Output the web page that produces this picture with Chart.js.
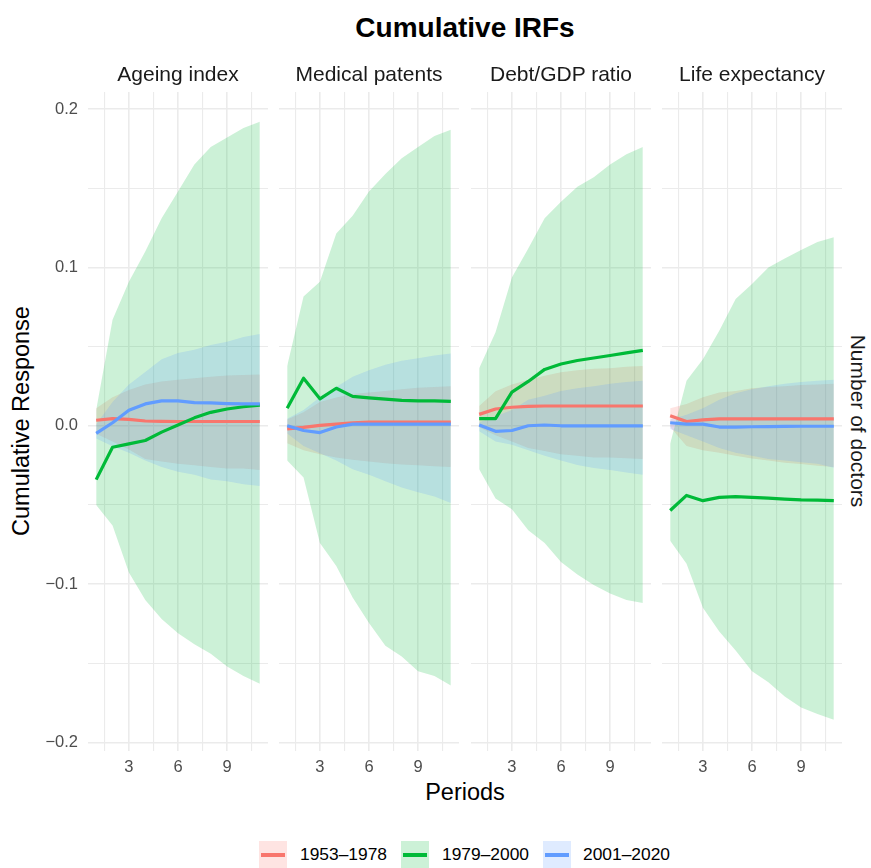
<!DOCTYPE html>
<html>
<head>
<meta charset="utf-8">
<script src="https://cdn.jsdelivr.net/npm/chart.js@4.4.1/dist/chart.umd.min.js"></script>
<style>
  body { margin: 0; background: #fff; font-family: 'Liberation Sans', Arial, sans-serif; }
  #wrap { position: relative; width: 871px; height: 868px; overflow: hidden; }
  canvas { position: absolute; }
  .txt { position: absolute; white-space: nowrap; transform: translate(-50%, -50%); line-height: 1; }
  .key { position: absolute; width: 28px; height: 27px; top: 841px; }
  .key span { position: absolute; left: 2px; right: 2px; top: 12px; height: 3.5px; }
  .ltxt { position: absolute; top: 855px; transform: translateY(-50%); font-size: 17.4px; color: #000; line-height: 1; }
</style>
</head>
<body>
<div id="wrap">
  <div class="txt" style="left:465px;top:28px;font-size:28px;font-weight:bold;">Cumulative IRFs</div>
  <div class="txt" style="left:465px;top:793px;font-size:23.5px;">Periods</div>
  <div class="txt" style="left:22px;top:421px;font-size:23.5px;transform:translate(-50%,-50%) rotate(-90deg);">Cumulative Response</div>
  <div class="txt" style="left:858px;top:421px;font-size:21px;color:#1a1a1a;transform:translate(-50%,-50%) rotate(90deg);">Number of doctors</div>
  <canvas id="c0" width="268" height="724" style="left:0px;top:67px;"></canvas>
  <canvas id="c1" width="180" height="724" style="left:279px;top:67px;"></canvas>
  <canvas id="c2" width="180" height="724" style="left:471px;top:67px;"></canvas>
  <canvas id="c3" width="180" height="724" style="left:662px;top:67px;"></canvas>
  <div id="legend"></div>
</div>
<script>
// periods and facet names
const periods = [1, 2, 3, 4, 5, 6, 7, 8, 9, 10, 11];
const panels = ['Ageing index', 'Medical patents', 'Debt/GDP ratio', 'Life expectancy'];
const seriesNames = ['1953–1978', '1979–2000', '2001–2020'];
const xGrid = [1.5, 3, 4.5, 6, 7.5, 9, 10.5];
const yGrid = [-0.2, -0.15, -0.1, -0.05, 0, 0.05, 0.1, 0.15, 0.2];

// Ageing index
const ageing1953 = [0.0035, 0.0045, 0.004, 0.003, 0.0028, 0.0027, 0.0027, 0.0027, 0.0027, 0.0027, 0.0027];
const ageing1953Lo = [-0.005, -0.010, -0.015, -0.021, -0.0226, -0.024, -0.025, -0.026, -0.027, -0.027, -0.028];
const ageing1953Hi = [0.011, 0.018, 0.0226, 0.026, 0.028, 0.029, 0.030, 0.031, 0.0317, 0.032, 0.0324];
const ageing1979 = [-0.034, -0.0136, -0.0114, -0.0093, -0.004, 0.0005, 0.005, 0.0085, 0.0106, 0.012, 0.013];
const ageing1979Lo = [-0.050, -0.063, -0.0926, -0.110, -0.122, -0.131, -0.138, -0.144, -0.152, -0.158, -0.163];
const ageing1979Hi = [0.010, 0.067, 0.091, 0.110, 0.131, 0.148, 0.165, 0.176, 0.182, 0.188, 0.192];
const ageing2001 = [-0.0048, 0.0019, 0.0098, 0.0138, 0.0157, 0.0157, 0.0146, 0.0144, 0.014, 0.0138, 0.0138];
const ageing2001Lo = [-0.008, -0.013, -0.017, -0.022, -0.026, -0.029, -0.031, -0.034, -0.035, -0.037, -0.038];
const ageing2001Hi = [0.001, 0.015, 0.026, 0.034, 0.042, 0.046, 0.048, 0.051, 0.053, 0.056, 0.058];

// Medical patents
const patents1953 = [-0.002, -0.001, 0.0003, 0.001, 0.0019, 0.0024, 0.0024, 0.0024, 0.0024, 0.0024, 0.0024];
const patents1953Lo = [-0.011, -0.0154, -0.018, -0.020, -0.0215, -0.0226, -0.0237, -0.0245, -0.025, -0.0255, -0.026];
const patents1953Hi = [0.004, 0.0085, 0.015, 0.0178, 0.020, 0.021, 0.022, 0.023, 0.024, 0.0245, 0.025];
const patents1979 = [0.011, 0.030, 0.017, 0.0237, 0.0186, 0.0176, 0.0168, 0.016, 0.0157, 0.0157, 0.0154];
const patents1979Lo = [-0.022, -0.0327, -0.074, -0.0886, -0.1085, -0.1245, -0.139, -0.1457, -0.155, -0.158, -0.164];
const patents1979Hi = [0.0378, 0.0816, 0.091, 0.1215, 0.1327, 0.148, 0.159, 0.169, 0.176, 0.183, 0.187];
const patents2001 = [0, -0.003, -0.0043, -0.0008, 0.001, 0.001, 0.001, 0.001, 0.001, 0.001, 0.001];
const patents2001Lo = [-0.0048, -0.0128, -0.0173, -0.022, -0.0274, -0.031, -0.035, -0.039, -0.042, -0.0447, -0.0487];
const patents2001Hi = [0.0045, 0.010, 0.018, 0.0245, 0.031, 0.035, 0.0386, 0.041, 0.0426, 0.0444, 0.0457];

// Debt/GDP ratio
const debt1953 = [0.0072, 0.0106, 0.0117, 0.0122, 0.0125, 0.0125, 0.0125, 0.0125, 0.0125, 0.0125, 0.0125];
const debt1953Lo = [-0.001, -0.006, -0.010, -0.014, -0.016, -0.018, -0.019, -0.020, -0.020, -0.0205, -0.021];
const debt1953Hi = [0.0125, 0.0218, 0.026, 0.029, 0.0316, 0.0338, 0.035, 0.036, 0.0364, 0.0372, 0.0378];
const debt1979 = [0.0045, 0.0045, 0.0213, 0.028, 0.0356, 0.039, 0.0412, 0.0428, 0.0444, 0.046, 0.0476];
const debt1979Lo = [-0.0274, -0.046, -0.0527, -0.066, -0.074, -0.086, -0.094, -0.1005, -0.106, -0.110, -0.112];
const debt1979Hi = [0.0364, 0.059, 0.0936, 0.112, 0.131, 0.1415, 0.151, 0.157, 0.165, 0.1715, 0.176];
const debt2001 = [0.0005, -0.0035, -0.003, 0, 0.0005, 0, 0, 0, 0, 0, 0];
const debt2001Lo = [-0.0035, -0.010, -0.012, -0.0154, -0.019, -0.022, -0.0247, -0.0266, -0.028, -0.0295, -0.031];
const debt2001Hi = [0.002, 0.006, 0.010, 0.0165, 0.019, 0.022, 0.0237, 0.025, 0.0266, 0.0277, 0.0285];

// Life expectancy
const life1953 = [0.0064, 0.0027, 0.0037, 0.0043, 0.0043, 0.0043, 0.0043, 0.0043, 0.0043, 0.0043, 0.0043];
const life1953Lo = [-0.0008, -0.0128, -0.0154, -0.017, -0.019, -0.0207, -0.022, -0.0234, -0.0242, -0.0253, -0.026];
const life1953Hi = [0.011, 0.0138, 0.018, 0.021, 0.022, 0.0237, 0.0245, 0.025, 0.0258, 0.026, 0.0266];
const life1979 = [-0.0535, -0.044, -0.0473, -0.0452, -0.0447, -0.0452, -0.0457, -0.0463, -0.0468, -0.047, -0.0473];
const life1979Lo = [-0.0726, -0.0872, -0.115, -0.130, -0.142, -0.155, -0.162, -0.171, -0.178, -0.182, -0.1856];
const life1979Hi = [-0.0114, 0.0285, 0.042, 0.060, 0.080, 0.0896, 0.100, 0.1056, 0.111, 0.116, 0.119];
const life2001 = [0.0019, 0.001, 0.001, -0.0008, -0.0008, -0.0006, -0.0005, -0.0004, -0.0003, -0.0003, -0.0003];
const life2001Lo = [-0.002, -0.006, -0.010, -0.014, -0.017, -0.019, -0.021, -0.022, -0.023, -0.024, -0.0265];
const life2001Hi = [0.004, 0.007, 0.011, 0.0165, 0.0205, 0.023, 0.025, 0.0266, 0.0277, 0.0285, 0.029];

// colours (ggplot default hues)
const lineColors = ['#F8766D', '#00BA38', '#619CFF'];
const fillColors = ['rgba(248,118,109,0.2)', 'rgba(0,186,56,0.2)', 'rgba(97,156,255,0.2)'];

const panelData = [
  [[ageing1953, ageing1953Lo, ageing1953Hi], [ageing1979, ageing1979Lo, ageing1979Hi], [ageing2001, ageing2001Lo, ageing2001Hi]],
  [[patents1953, patents1953Lo, patents1953Hi], [patents1979, patents1979Lo, patents1979Hi], [patents2001, patents2001Lo, patents2001Hi]],
  [[debt1953, debt1953Lo, debt1953Hi], [debt1979, debt1979Lo, debt1979Hi], [debt2001, debt2001Lo, debt2001Hi]],
  [[life1953, life1953Lo, life1953Hi], [life1979, life1979Lo, life1979Hi], [life2001, life2001Lo, life2001Hi]]
];

const toXY = arr => periods.map((p, i) => ({ x: p, y: arr[i] }));
const FONT = "'Liberation Sans', Arial, sans-serif";

function buildChart(idx) {
  const datasets = [];
  panelData[idx].forEach((s, k) => {
    // ribbons first (drawn underneath)
    datasets.push({ data: toXY(s[2]), fill: '+1', backgroundColor: fillColors[k], borderWidth: 0, pointRadius: 0, order: 30 - k * 10 });
    datasets.push({ data: toXY(s[1]), fill: false, borderWidth: 0, pointRadius: 0, order: 30 - k * 10 });
  });
  panelData[idx].forEach((s, k) => {
    datasets.push({ data: toXY(s[0]), fill: false, borderColor: lineColors[k], borderWidth: 3.2, pointRadius: 0,
      borderCapStyle: 'butt', borderJoinStyle: 'round', tension: 0, order: 3 - k });
  });

  const first = idx === 0;
  new Chart(document.getElementById('c' + idx), {
    type: 'line',
    data: { datasets: datasets },
    options: {
      responsive: false,
      animation: false,
      layout: { padding: { top: 25, left: 0, right: 0, bottom: 0 } },
      plugins: { legend: { display: false }, tooltip: { enabled: false } },
      scales: {
        x: {
          type: 'linear', min: 0.5, max: 11.5,
          afterBuildTicks: sc => { sc.ticks = xGrid.map(v => ({ value: v })); },
          afterFit: sc => { sc.height = 40; },
          border: { display: false },
          grid: { color: '#EBEBEB', drawTicks: false, lineWidth: c => (c.tick && c.tick.value % 3 === 0) ? 1.6 : 1.1 },
          ticks: { autoSkip: false, maxRotation: 0, padding: 7, color: '#4D4D4D', font: { family: FONT, size: 16.5 },
            callback: v => (v % 3 === 0 ? String(v) : '') }
        },
        y: {
          min: -0.2054, max: 0.2108,
          afterBuildTicks: sc => { sc.ticks = yGrid.map(v => ({ value: v })); },
          afterFit: sc => { sc.width = first ? 88 : 0; },
          border: { display: false },
          grid: { color: '#EBEBEB', drawTicks: false, lineWidth: c => (c.index % 2 === 0) ? 1.6 : 1.1 },
          ticks: { display: first, autoSkip: false, padding: 10, color: '#4D4D4D', font: { family: FONT, size: 16.5 },
            callback: (v, i) => (i % 2 === 0 ? v.toFixed(1).replace('-', '\u2212') : '') }
        }
      }
    }
  });
}

[0, 1, 2, 3].forEach(buildChart);

// strip labels above each panel
const panelLeft = [88, 279, 471, 662];
const wrap = document.getElementById('wrap');
panels.forEach((name, i) => {
  const d = document.createElement('div');
  d.className = 'txt';
  d.style.left = (panelLeft[i] + 90) + 'px';
  d.style.top = '73px';
  d.style.fontSize = '21px';
  d.style.color = '#1a1a1a';
  d.textContent = name;
  wrap.appendChild(d);
});

// legend
const keyLeft = [259, 401, 543];
const textLeft = [300, 442, 583];
seriesNames.forEach((name, i) => {
  const k = document.createElement('div');
  k.className = 'key';
  k.style.left = keyLeft[i] + 'px';
  k.style.background = fillColors[i];
  const ln = document.createElement('span');
  ln.style.background = lineColors[i];
  k.appendChild(ln);
  wrap.appendChild(k);
  const t = document.createElement('div');
  t.className = 'ltxt';
  t.style.left = textLeft[i] + 'px';
  t.textContent = name;
  wrap.appendChild(t);
});
</script>
</body>
</html>
